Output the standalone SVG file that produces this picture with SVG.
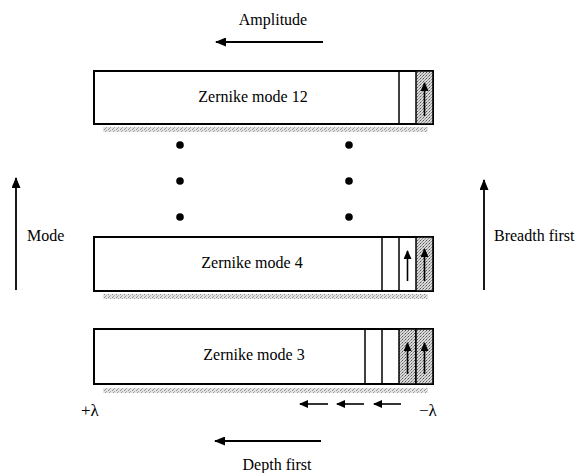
<svg xmlns="http://www.w3.org/2000/svg" width="579" height="473" viewBox="0 0 579 473">
<defs>
<pattern id="stip" width="3" height="3" patternUnits="userSpaceOnUse">
<rect width="3" height="3" fill="#d8d8d8"/>
<rect x="0" y="0" width="1" height="1" fill="#555"/>
<rect x="2" y="1" width="1" height="1" fill="#888"/>
<rect x="1" y="2" width="1" height="1" fill="#999"/>
</pattern>
<pattern id="shadow" width="4" height="3" patternUnits="userSpaceOnUse">
<rect width="4" height="3" fill="#e4e4e4"/>
<rect x="0" y="0" width="1" height="1" fill="#888"/>
<rect x="2" y="1" width="1" height="1" fill="#aaa"/>
<rect x="1" y="2" width="1" height="1" fill="#999"/>
</pattern>
<marker id="ah" viewBox="0 0 11 9" refX="10" refY="4.5" markerWidth="11" markerHeight="9" markerUnits="userSpaceOnUse" orient="auto">
<path d="M0,0 L11,4.5 L0,9 z" fill="#000"/>
</marker>
<marker id="ahs" viewBox="0 0 9 8" refX="8" refY="4" markerWidth="9" markerHeight="8" markerUnits="userSpaceOnUse" orient="auto">
<path d="M0,0 L9,4 L0,8 z" fill="#000"/>
</marker>
</defs>
<style>
text{font-family:"Liberation Serif","DejaVu Serif","Times New Roman",serif;font-size:16px;fill:#000}
.lam{font-size:17px}
.box{fill:#fff;stroke:#000;stroke-width:2}
.sep{stroke:#000;stroke-width:1.5}
.sh{fill:url(#shadow)}
.cell{fill:url(#stip);stroke:#000;stroke-width:1.5}
.arr{stroke:#000;stroke-width:1.8;fill:none;marker-end:url(#ah)}
.sarr{stroke:#000;stroke-width:1.6;fill:none;marker-end:url(#ahs)}
.dot{fill:#000}
</style>

<g id="mode12">
<rect class="sh" x="103" y="127" width="325" height="5"/>
<rect class="box" x="94" y="71" width="339" height="53"/>
<line class="sep" x1="399" y1="71" x2="399" y2="124"/>
<rect class="cell" x="416" y="71" width="17" height="53"/>
<line class="sarr" x1="424.5" y1="116" x2="424.5" y2="83"/>
<text x="253" y="102" text-anchor="middle">Zernike mode  12</text>
</g>

<g id="mode4">
<rect class="sh" x="103" y="294" width="325" height="5"/>
<rect class="box" x="94" y="237" width="339" height="54"/>
<line class="sep" x1="382" y1="237" x2="382" y2="291"/>
<line class="sep" x1="399" y1="237" x2="399" y2="291"/>
<rect class="cell" x="416" y="237" width="17" height="54"/>
<line class="sarr" x1="407.5" y1="281" x2="407.5" y2="251"/>
<line class="sarr" x1="424.5" y1="281" x2="424.5" y2="249"/>
<text x="252" y="268" text-anchor="middle">Zernike mode  4</text>
</g>

<g id="mode3">
<rect class="sh" x="103" y="388" width="325" height="5"/>
<rect class="box" x="94" y="329" width="339" height="55"/>
<line class="sep" x1="365" y1="329" x2="365" y2="384"/>
<line class="sep" x1="382" y1="329" x2="382" y2="384"/>
<rect class="cell" x="399" y="329" width="17" height="55"/>
<rect class="cell" x="416" y="329" width="17" height="55"/>
<line class="sarr" x1="407.5" y1="374" x2="407.5" y2="343"/>
<line class="sarr" x1="424.5" y1="374" x2="424.5" y2="343"/>
<text x="254" y="360" text-anchor="middle">Zernike mode  3</text>
</g>

<g id="dots">
<circle class="dot" cx="180" cy="145" r="3.8"/>
<circle class="dot" cx="180" cy="181" r="3.8"/>
<circle class="dot" cx="180" cy="217" r="3.8"/>
<circle class="dot" cx="349" cy="145" r="3.8"/>
<circle class="dot" cx="349" cy="181" r="3.8"/>
<circle class="dot" cx="349" cy="217" r="3.8"/>
</g>

<g id="connectors">
<line class="arr" x1="323" y1="42" x2="216" y2="42"/>
<line class="arr" x1="16" y1="290" x2="16" y2="178"/>
<line class="arr" x1="484" y1="290" x2="484" y2="180"/>
<line class="arr" x1="321" y1="441" x2="215" y2="441"/>
<line class="sarr" x1="328" y1="404" x2="300" y2="404"/>
<line class="sarr" x1="364" y1="404" x2="337" y2="404"/>
<line class="sarr" x1="401" y1="404" x2="374" y2="404"/>
</g>

<g id="labels">
<text x="273" y="25" text-anchor="middle">Amplitude</text>
<text x="27" y="241">Mode</text>
<text x="494" y="241">Breadth first</text>
<text x="277" y="470" text-anchor="middle">Depth first</text>
<text class="lam" x="81" y="416">+λ</text>
<text class="lam" x="419" y="416">−λ</text>
</g>
</svg>
